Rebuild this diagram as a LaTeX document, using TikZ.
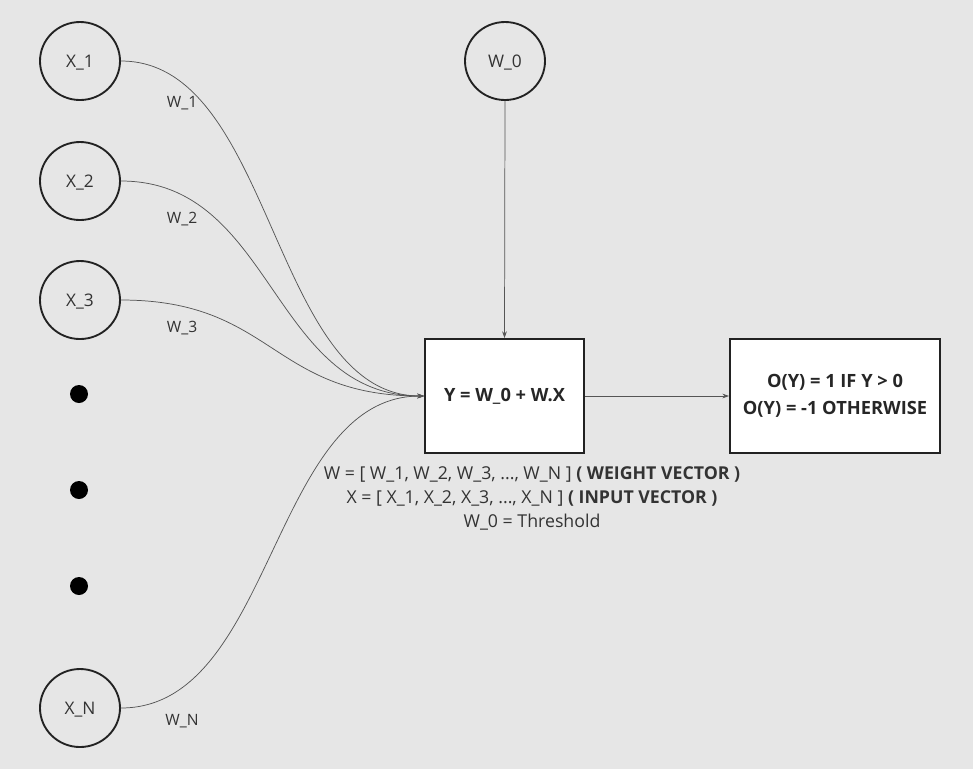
\documentclass[tikz,border=0pt]{standalone}
\usepackage{fontspec}
\setmainfont{Open Sans}
\usetikzlibrary{shapes.geometric,arrows.meta}
\definecolor{bg}{HTML}{E6E6E6}
\definecolor{txt}{HTML}{333333}
\definecolor{edgec}{HTML}{555555}
\definecolor{border}{HTML}{222222}
\tikzset{
  inp/.style={ellipse, draw=border, line width=1.4pt, minimum width=60pt, minimum height=58.5pt, inner sep=0pt, text=txt, text depth=0pt, font=\fontsize{13}{15}\selectfont},
  dotnode/.style={circle, fill=black, minimum size=13.5pt, inner sep=0pt},
  boxnode/.style={rectangle, draw=border, line width=1.4pt, fill=white, inner sep=0pt, text=black!85, font=\fontsize{13.7}{20}\selectfont\bfseries, align=center},
  edge/.style={draw=edgec, line width=0.55pt, -{Stealth[length=5pt,width=3.5pt]}},
  wlab/.style={text=txt, text depth=0pt, font=\fontsize{11.7}{13}\selectfont, inner sep=0pt},
  note/.style={text=txt, font=\fontsize{13.3}{18}\selectfont, align=center, inner sep=0pt}
}
\begin{document}
\begin{tikzpicture}[x=0.75pt, y=-0.75pt]
\fill[bg] (0,0) rectangle (973,769);
\useasboundingbox (0,0) rectangle (973,769);
\node[inp] (x1) at (80,61) {X\_1};
\node[inp] (x2) at (80,181) {X\_2};
\node[inp] (x3) at (80,300) {X\_3};
\node[inp] (xn) at (80,708) {X\_N};
\node[inp] (w0) at (505,61) {W\_0};
\node[dotnode] (d1) at (79,394) {};
\node[dotnode] (d2) at (79,490) {};
\node[dotnode] (d3) at (79,586) {};
\node[boxnode, minimum width=119.25pt, minimum height=85.5pt] (sum) at (504.5,396) {Y = W\_0 + W.X};
\node[boxnode, minimum width=157.5pt, minimum height=85.5pt] (out) at (835,396) {O(Y) = 1 IF Y > 0\\O(Y) = -1 OTHERWISE};
\draw[edge] (x1.east) .. controls +(153,0) and +(-153,0) .. (sum.west);
\draw[edge] (x2.east) .. controls +(153,0) and +(-153,0) .. (sum.west);
\draw[edge] (x3.east) .. controls +(153,0) and +(-153,0) .. (sum.west);
\draw[edge] (xn.east) .. controls +(153,0) and +(-153,0) .. (sum.west);
\draw[edge] (w0.south) -- (sum.north);
\draw[edge] (sum.east) -- (out.west);
\node[wlab] (l1) at (182,102) {W\_1};
\node[wlab] (l2) at (182,218) {W\_2};
\node[wlab] (l3) at (182,327) {W\_3};
\node[wlab] (ln) at (182,720) {W\_N};
\node[note] (desc) at (532,498) {W = [ W\_1, W\_2, W\_3, ..., W\_N ] \textbf{( WEIGHT VECTOR )}\\X = [ X\_1, X\_2, X\_3, ..., X\_N ] \textbf{( INPUT VECTOR )}\\W\_0 = Threshold};
\end{tikzpicture}
\end{document}
